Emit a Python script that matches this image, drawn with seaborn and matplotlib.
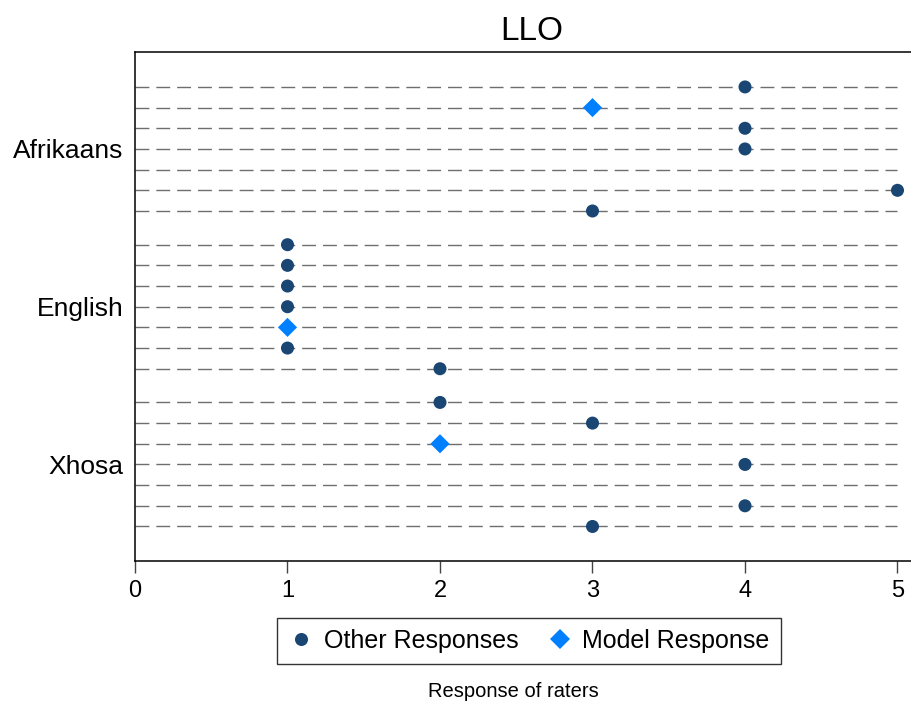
import numpy as np
import pandas as pd
import matplotlib
matplotlib.use("Agg")
import matplotlib.pyplot as plt
import seaborn as sns

# Ratings per language (one row per rater); NaN = no response recorded
languages = ["Afrikaans", "English", "Xhosa"]
afrikaans = [4, 3, 4, 4, np.nan, 5, 3]
english = [1, 1, 1, 1, 1, 1, 2]
xhosa = [2, 3, 2, 4, np.nan, 4, 3]
# index of the model response within each language block
model_row = [1, 4, 2]
x_ticks = [0, 1, 2, 3, 4, 5]

title = "LLO"
x_label = "Response of raters"
kind_other = "Other Responses"
kind_model = "Model Response"

# layout: extra spacing between language blocks
group_gap = 0.63

records = []
for g, (lang, vals) in enumerate(zip(languages, [afrikaans, english, xhosa])):
    for r, v in enumerate(vals):
        records.append({
            "language": lang,
            "pos": g * (len(vals) + group_gap) + r,
            "response": v,
            "kind": kind_model if r == model_row[g] else kind_other,
            "row": r,
        })
df = pd.DataFrame(records)

sns.set_theme(style="white")
plt.rcParams["font.family"] = ["Liberation Sans", "DejaVu Sans"]
plt.rcParams["text.color"] = "black"
plt.rcParams["xtick.color"] = "black"
plt.rcParams["ytick.color"] = "black"

fig = plt.figure(figsize=(9.12, 7.04), dpi=100)
ax = fig.add_axes([135 / 912, 1 - 561 / 704, 793 / 912, 509 / 704])

# dashed guide line for every rater row
ax.hlines(df["pos"], 0, 5, colors="#6e6e6e", linewidth=1.0,
          linestyles=(0, (10, 5)), zorder=1)

sns.scatterplot(
    data=df.dropna(subset=["response"]), x="response", y="pos",
    hue="kind", style="kind", size="kind",
    hue_order=[kind_other, kind_model], style_order=[kind_other, kind_model],
    size_order=[kind_other, kind_model],
    palette={kind_other: "#1a4674", kind_model: "#0080ff"},
    markers={kind_other: "o", kind_model: "D"},
    sizes={kind_other: 88, kind_model: 95},
    linewidth=0, ax=ax, zorder=3, clip_on=False,
)

n_rows = len(afrikaans)
last = df["pos"].max()
ax.set_xlim(0, 5.2)
ax.set_ylim(last + 1.67, -1.69)

ax.set_xticks(x_ticks)
ax.set_xticklabels([str(t) for t in x_ticks], fontsize=17)
mid = df[df["row"] == n_rows // 2]
ax.set_yticks(mid["pos"])
ax.set_yticklabels(languages, fontsize=19)
ax.tick_params(axis="x", length=8.6, width=1, color="#444444", pad=5, direction="out")
ax.tick_params(axis="y", length=0, pad=8.5)
ax.xaxis.set_ticks_position("bottom")

for side in ["left", "bottom", "top"]:
    ax.spines[side].set_color("black")
    ax.spines[side].set_linewidth(1.1)
ax.spines["right"].set_visible(False)

ax.set_xlabel("")
ax.set_ylabel("")
ax.set_title(title, fontsize=24, pad=9, color="black")

sns.move_legend(
    ax, loc="center", bbox_to_anchor=(529 / 912, 1 - 641 / 704),
    bbox_transform=fig.transFigure, ncol=2, title=None, frameon=True,
    fancybox=False, edgecolor="black", fontsize=18,
    handletextpad=0.4, columnspacing=1.15, borderpad=0.45,
    handlelength=1.0, borderaxespad=0,
)
leg = ax.get_legend()
leg.get_frame().set_linewidth(1.0)
for t in leg.get_texts():
    t.set_color("black")

fig.text(513 / 912, 1 - 697 / 704, x_label, ha="center", va="baseline", fontsize=14.5)

fig.savefig("out.png", dpi=100)
